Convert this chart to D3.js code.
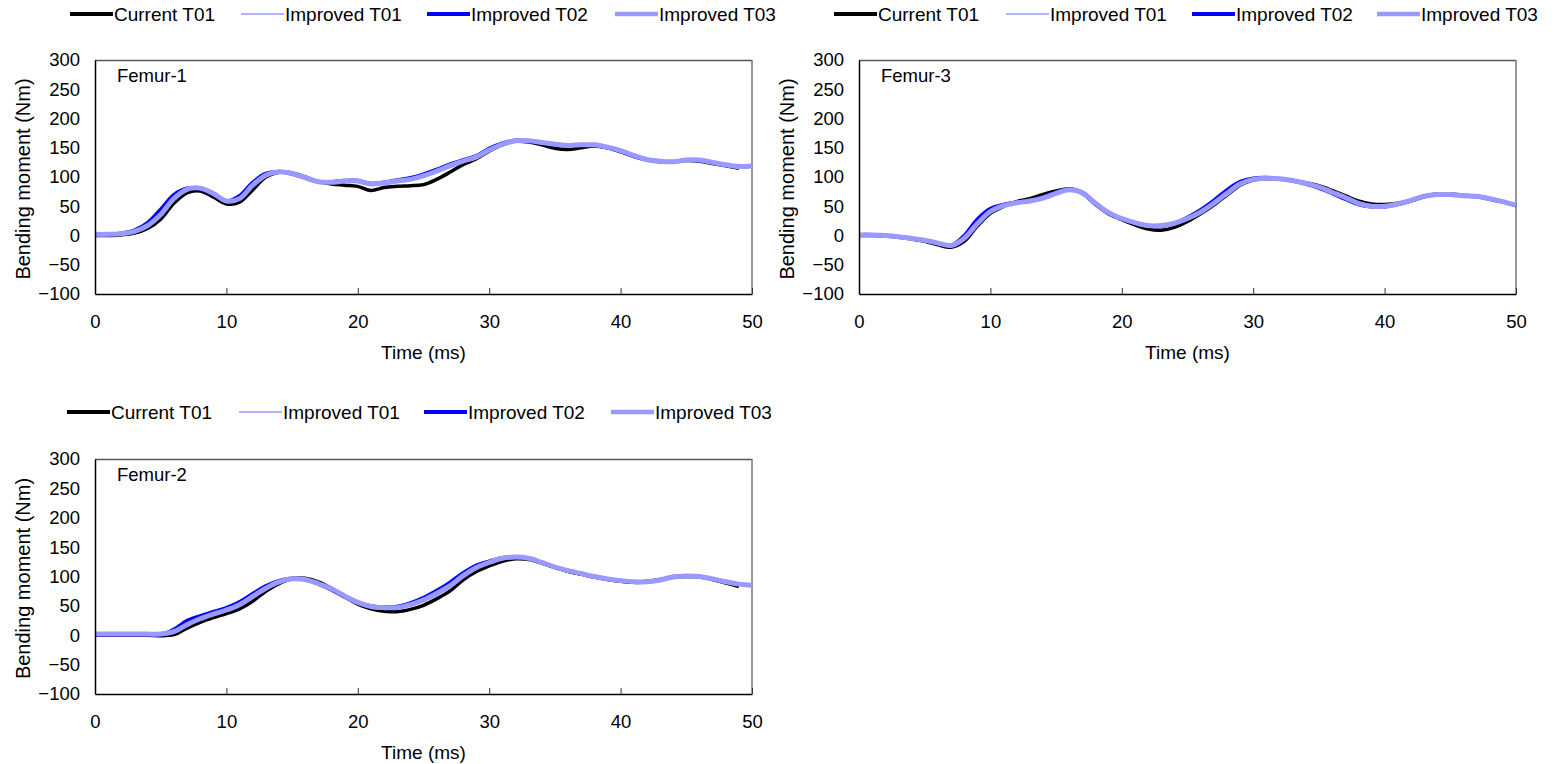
<!DOCTYPE html>
<html><head><meta charset="utf-8">
<script src="https://cdn.jsdelivr.net/npm/d3@7"></script>
<style>
body{margin:0;background:#fff;}
svg text{font-family:Arial,"Liberation Sans",sans-serif;fill:#000;}
</style></head>
<body><svg id="c" width="1559" height="764"></svg>
<script>
const timeMs = [0,1,2,3,4,5,6,7,8,9,10,11,12,13,14,15,16,17,18,19,20,21,22,23,24,25,26,27,28,29,30,31,32,33,34,35,36,37,38,39,40,41,42,43,44,45,46,47,48,49,50];
const seriesNames = ["Current T01","Improved T01","Improved T02","Improved T03"];
const xTicks = [0,10,20,30,40,50];
const yTicks = [-100,-50,0,50,100,150,200,250,300];
const panelNames = ["Femur-1","Femur-3","Femur-2"];

// Femur-1 (Current T01 record ends at 49 ms)
const f1Current = [0,0,1,4,12,28,55,73,76,66,54,57,78,100,108,107,100,92,88,86,84,77,82,84,85,87,96,108,121,131,144,155,161,160,155,149,147,150,153,150,144,136,130,127,126,128,127,123,119,115];
const f1ImpT01 = [2,2,3,7,17,37,64,79,81,72,59,63,86,103,109,106,99,92,91,93,93,88,90,93,96,102,110,119,127,134,146,156,162,162,159,156,154,155,155,151,145,137,130,127,126,129,129,125,121,118,119];
const f1ImpT02 = [2,2,4,9,22,45,70,81,80,70,59,68,91,106,109,105,98,92,92,94,94,89,91,95,99,105,113,122,129,136,149,158,163,162,158,155,154,155,154,150,143,135,129,126,126,129,128,124,120,118,119];
const f1ImpT03 = [2,2,3,7,17,36,63,79,81,72,59,63,86,103,109,106,99,92,91,93,93,88,90,93,96,102,110,119,127,134,146,156,162,162,159,156,154,155,155,151,145,137,130,127,126,129,129,125,121,118,119];

// Femur-3
const f3Current = [0,0,-1,-3,-6,-10,-16,-20,-10,16,38,50,58,63,70,76,80,74,55,38,27,18,11,9,14,24,37,52,69,86,95,97,96,94,90,85,77,68,59,54,53,55,60,67,71,71,69,67,63,58,51];
const f3ImpT01 = [1,1,0,-2,-5,-8,-13,-17,-5,20,41,51,56,59,64,72,78,73,55,39,29,22,17,17,21,29,40,55,72,88,96,98,97,94,89,83,74,65,55,50,50,54,60,67,70,70,68,67,63,58,52];
const f3ImpT02 = [1,1,0,-2,-5,-8,-13,-17,0,28,46,53,57,60,66,74,79,72,53,37,28,21,16,16,21,31,44,60,78,92,98,99,97,93,88,81,72,62,53,49,49,53,59,66,70,70,68,66,62,57,51];
const f3ImpT03 = [1,1,0,-2,-5,-8,-13,-17,-5,20,41,51,56,59,64,72,78,73,55,39,29,22,17,17,21,29,40,55,72,88,96,98,97,94,89,83,74,65,55,50,50,54,60,67,70,70,68,67,63,58,52];

// Femur-2 (Current T01 record ends at 49 ms)
const f2Current = [0,0,0,0,0,-1,1,12,22,30,37,45,58,75,88,96,97,91,80,66,53,45,41,40,44,51,62,75,94,108,118,126,130,129,123,116,109,104,99,95,92,90,91,94,99,100,99,95,89,83];
const f2ImpT01 = [2,2,2,2,2,2,6,18,28,36,43,52,66,80,91,96,95,88,79,67,56,49,47,47,52,60,71,84,101,115,124,131,133,131,124,116,110,105,100,96,93,91,91,94,99,101,100,96,91,87,85];
const f2ImpT02 = [1,1,1,1,1,1,10,25,33,40,47,57,71,84,93,97,95,87,77,65,55,50,48,49,55,64,76,90,106,119,126,132,133,130,123,115,109,104,99,96,93,91,92,95,100,101,100,96,91,87,85];
const f2ImpT03 = [2,2,2,2,2,2,6,18,28,36,43,52,66,80,91,96,95,88,79,67,56,49,47,47,52,60,71,84,101,115,124,131,133,131,124,116,110,105,100,96,93,91,91,94,99,101,100,96,91,87,85];

const panelData = [
  [f1Current,f1ImpT01,f1ImpT02,f1ImpT03],
  [f3Current,f3ImpT01,f3ImpT02,f3ImpT03],
  [f2Current,f2ImpT01,f2ImpT02,f2ImpT03]
];

const styles = [
  {color:"#000000", w:3.5, lw:4},
  {color:"#9999ff", w:1.5, lw:1.5},
  {color:"#0000ff", w:3.5, lw:4},
  {color:"#9999ff", w:5, lw:4.5}
];

const panels = [
  {x0:95, x1:752, y0:60, y1:294, legX:[70,241,427,615], legTx:[114,285,471,659], legY:14},
  {x0:859, x1:1516, y0:60, y1:294, legX:[834,1006,1192,1377], legTx:[878,1050,1236,1421], legY:14},
  {x0:95, x1:752, y0:459, y1:694, legX:[67,239,424,611], legTx:[111,283,468,655], legY:412}
];

const svg = d3.select("#c");

panels.forEach((p,pi)=>{
  const g = svg.append("g");
  const x = d3.scaleLinear().domain([0,50]).range([p.x0,p.x1]);
  const y = d3.scaleLinear().domain([-100,300]).range([p.y1,p.y0]);

  // frame top/right
  g.append("line").attr("x1",p.x0).attr("x2",p.x1).attr("y1",p.y0+0.5).attr("y2",p.y0+0.5).attr("stroke","#555").attr("stroke-width",1.5);
  g.append("line").attr("x1",p.x1).attr("x2",p.x1).attr("y1",p.y0).attr("y2",p.y1).attr("stroke","#777").attr("stroke-width",1.5);

  // lines
  const line = d3.line().x((d,i)=>x(timeMs[i])).y(d=>y(d)).curve(d3.curveCatmullRom.alpha(0.5));
  panelData[pi].forEach((s,si)=>{
    g.append("path").datum(s).attr("d",line).attr("fill","none")
      .attr("stroke",styles[si].color).attr("stroke-width",styles[si].w)
      .attr("stroke-linejoin","round").attr("stroke-linecap","butt");
  });

  // x axis
  const xa = g.append("g").attr("transform",`translate(0,${p.y1})`)
    .call(d3.axisBottom(x).tickValues(xTicks).tickSizeInner(-6).tickSizeOuter(0).tickPadding(21));
  xa.select(".domain").attr("stroke","#000").attr("stroke-width",1.5);
  xa.selectAll(".tick line").attr("stroke","#333");
  xa.selectAll("text").style("font-size","18.5px").attr("fill","#000");

  // y axis
  const ya = g.append("g").attr("transform",`translate(${p.x0},0)`)
    .call(d3.axisLeft(y).tickValues(yTicks).tickSize(0).tickPadding(15));
  ya.select(".domain").attr("stroke","#000").attr("stroke-width",1.5);
  ya.selectAll("text").style("font-size","18.5px").attr("fill","#000");

  // axis titles
  g.append("text").attr("x",(p.x0+p.x1)/2).attr("y",p.y1+65).attr("text-anchor","middle")
    .style("font-size","19px").text("Time (ms)");
  g.append("text").attr("transform",`translate(${p.x0-72},${(p.y0+p.y1)/2+2}) rotate(-90)`)
    .attr("text-anchor","middle").attr("dy","0.35em").style("font-size","20px").text("Bending moment (Nm)");

  // panel label
  g.append("text").attr("x",p.x0+22).attr("y",p.y0+22).style("font-size","18.5px").text(panelNames[pi]);

  // legend
  seriesNames.forEach((n,si)=>{
    g.append("line").attr("x1",p.legX[si]).attr("x2",p.legX[si]+43).attr("y1",p.legY).attr("y2",p.legY)
      .attr("stroke",styles[si].color).attr("stroke-width",styles[si].lw);
    g.append("text").attr("x",p.legTx[si]).attr("y",p.legY).attr("dy","0.35em")
      .style("font-size","19px").text(n);
  });
});
</script></body></html>
